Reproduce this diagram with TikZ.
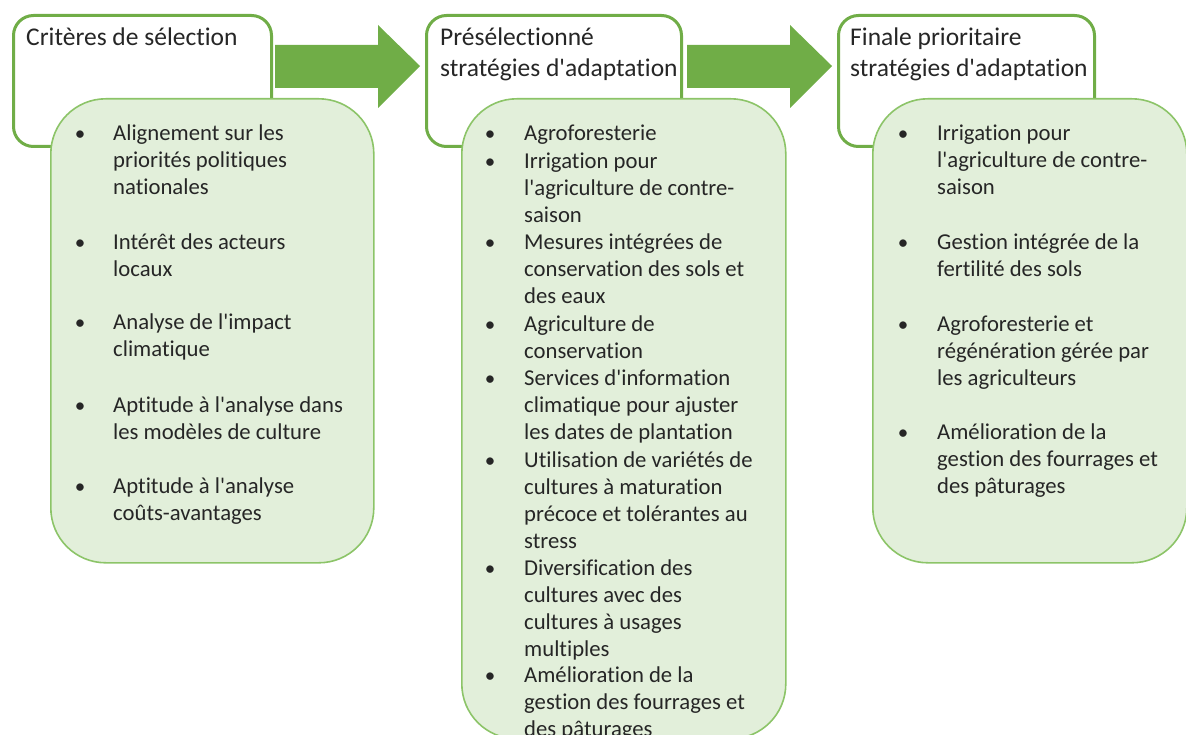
\documentclass[tikz,border=0pt]{standalone}
\usepackage{fontspec}
\setmainfont{Carlito}[Ligatures=NoCommon]
\definecolor{gborder}{HTML}{70AD47}
\definecolor{gfill}{HTML}{E2EFDA}
\definecolor{gline}{HTML}{8CC468}
\definecolor{txt}{HTML}{262626}
\newcommand\mylines[1]{\vtop{\halign{##\hfil\cr#1\crcr}}}
\newcommand\q{\textquotesingle}
\tikzset{
  titlebox/.style={draw=gborder, line width=3pt, fill=white, rounded corners=20pt, inner sep=0pt, anchor=north west},
  listbox/.style={draw=gline, line width=1.6pt, fill=gfill, rounded corners=55pt, inner sep=0pt, anchor=north west},
  blockarrow/.style={fill=gborder, draw=none},
  ttext/.style={anchor=base west, inner sep=0pt, text=txt, font=\fontsize{25.5}{31}\selectfont},
  itemtext/.style={anchor=base west, inner sep=0pt, text=txt, font=\fontsize{22.7}{27}\selectfont},
  bul/.style={anchor=base, inner sep=0pt, text=txt, font=\fontsize{21}{27}\selectfont},
}
\begin{document}
\begin{tikzpicture}[x=1pt,y=-1pt]
\useasboundingbox (0,0) rectangle (1186,735);
\clip (0,0) rectangle (1186,735);
% title boxes
\node[titlebox, minimum width=258pt, minimum height=131pt] (t1) at (12,14) {};
\node[titlebox, minimum width=255pt, minimum height=131pt] (t2) at (425,14) {};
\node[titlebox, minimum width=256pt, minimum height=131pt] (t3) at (837,14) {};
% block arrows
\coordinate (a1) at (275,45);
\coordinate (a2) at (687,45);
\fill[blockarrow] (a1) -- ++(103,0) -- ++(0,-20) -- ++(42,41) -- ++(-42,42) -- ++(0,-20) -- ++(-103,0) -- cycle;
\fill[blockarrow] (a2) -- ++(103,0) -- ++(0,-20) -- ++(42,41) -- ++(-42,42) -- ++(0,-20) -- ++(-103,0) -- cycle;
% list boxes
\node[listbox, minimum width=323pt, minimum height=464pt] (l1) at (50,98) {};
\node[listbox, minimum width=324pt, minimum height=640pt] (l2) at (461,98) {};
\node[listbox, minimum width=314pt, minimum height=464pt] (l3) at (872,98) {};
% titles
\node[ttext] (tt1) at (26,46) {Critères de sélection};
\node[ttext] (tt2) at (440,46) {\mylines{Présélectionné\cr strat\'egies d\q adaptation}};
\node[ttext] (tt3) at (850,46) {\mylines{Finale prioritaire\cr strat\'egies d\q adaptation}};
% list 1
\foreach \y/\t [count=\i] in {141/{Alignement sur les\cr priorités politiques\cr nationales}, 250/{Intérêt des acteurs\cr locaux}, 330/{Analyse de l\q impact\cr climatique}, 412/{Aptitude à l\q analyse dans\cr les modèles de culture}, 493/{Aptitude à l\q analyse\cr coûts-avantages}}{
  \node[bul] (b1-\i) at (80,\y) {\textbullet};
  \node[itemtext] (i1-\i) at (113,\y) {\mylines{\t}};
}
% list 2
\foreach \y/\t [count=\i] in {141/{Agroforesterie}, 169/{Irrigation pour\cr l\q agriculture de contre-\cr saison}, 250/{Mesures intégrées de\cr conservation des sols et\cr des eaux}, 331/{Agriculture de\cr conservation}, 385/{Services d\q information\cr climatique pour ajuster\cr les dates de plantation}, 467/{Utilisation de variétés de\cr cultures à maturation\cr précoce et tolérantes au\cr stress}, 575/{Diversification des\cr cultures avec des\cr cultures à usages\cr multiples}, 682/{Amélioration de la\cr gestion des fourrages et\cr des pâturages}}{
  \node[bul] (b2-\i) at (490,\y) {\textbullet};
  \node[itemtext] (i2-\i) at (524,\y) {\mylines{\t}};
}
% list 3
\foreach \y/\t [count=\i] in {141/{Irrigation pour\cr l\q agriculture de contre-\cr saison}, 250/{Gestion intégrée de la\cr fertilité des sols}, 331/{Agroforesterie et\cr régénération gérée par\cr les agriculteurs}, 439/{Amélioration de la\cr gestion des fourrages et\cr des pâturages}}{
  \node[bul] (b3-\i) at (903,\y) {\textbullet};
  \node[itemtext] (i3-\i) at (937,\y) {\mylines{\t}};
}
\end{tikzpicture}
\end{document}
